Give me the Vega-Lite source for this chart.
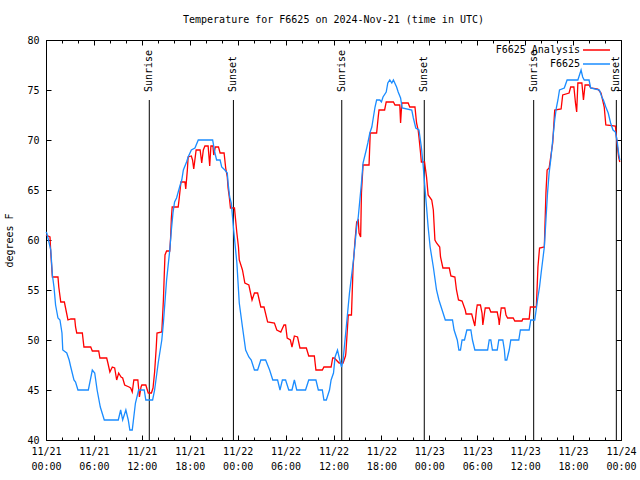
{
  "$schema": "https://vega.github.io/schema/vega-lite/v6.json",
  "width": 575,
  "height": 400,
  "autosize": {"type": "none"},
  "padding": {"left": 46, "top": 40, "right": 19, "bottom": 40},
  "background": "white",
  "title": {"text": "Temperature for F6625 on 2024-Nov-21 (time in UTC)", "font": "DejaVu Sans Mono", "fontSize": 10, "fontWeight": "normal", "color": "black", "offset": 10, "anchor": "middle"},
  "config": {
    "view": {"stroke": "black", "strokeWidth": 1},
    "axis": {"domain": false, "grid": false, "labelFont": "DejaVu Sans Mono", "labelFontSize": 10, "labelColor": "black", "titleFont": "DejaVu Sans Mono", "titleFontSize": 10, "titleFontWeight": "normal", "titleColor": "black", "tickColor": "black", "tickWidth": 1, "labelFlush": false, "labelOverlap": false}
  },
  "datasets": {
    "sun": [
      {"t": "2024-11-21T12:56:00Z", "label": "Sunrise"},
      {"t": "2024-11-21T23:28:00Z", "label": "Sunset"},
      {"t": "2024-11-22T13:02:00Z", "label": "Sunrise"},
      {"t": "2024-11-22T23:22:00Z", "label": "Sunset"},
      {"t": "2024-11-23T13:04:00Z", "label": "Sunrise"},
      {"t": "2024-11-23T23:25:00Z", "label": "Sunset"}
    ],
    "analysis": [
      {"s": "F6625 Analysis", "t": "2024-11-21T00:00Z", "v": 60.5},
      {"s": "F6625 Analysis", "t": "2024-11-21T00:30Z", "v": 60.3},
      {"s": "F6625 Analysis", "t": "2024-11-21T00:36Z", "v": 58.7},
      {"s": "F6625 Analysis", "t": "2024-11-21T00:48Z", "v": 56.3},
      {"s": "F6625 Analysis", "t": "2024-11-21T01:30Z", "v": 56.3},
      {"s": "F6625 Analysis", "t": "2024-11-21T01:36Z", "v": 55.3},
      {"s": "F6625 Analysis", "t": "2024-11-21T01:51Z", "v": 53.8},
      {"s": "F6625 Analysis", "t": "2024-11-21T02:18Z", "v": 53.8},
      {"s": "F6625 Analysis", "t": "2024-11-21T02:30Z", "v": 53},
      {"s": "F6625 Analysis", "t": "2024-11-21T02:45Z", "v": 52},
      {"s": "F6625 Analysis", "t": "2024-11-21T03:06Z", "v": 52.1},
      {"s": "F6625 Analysis", "t": "2024-11-21T03:36Z", "v": 52.1},
      {"s": "F6625 Analysis", "t": "2024-11-21T03:42Z", "v": 51.3},
      {"s": "F6625 Analysis", "t": "2024-11-21T03:51Z", "v": 50.7},
      {"s": "F6625 Analysis", "t": "2024-11-21T04:33Z", "v": 50.7},
      {"s": "F6625 Analysis", "t": "2024-11-21T04:45Z", "v": 49.3},
      {"s": "F6625 Analysis", "t": "2024-11-21T05:36Z", "v": 49.3},
      {"s": "F6625 Analysis", "t": "2024-11-21T05:48Z", "v": 48.9},
      {"s": "F6625 Analysis", "t": "2024-11-21T06:36Z", "v": 48.9},
      {"s": "F6625 Analysis", "t": "2024-11-21T06:45Z", "v": 48.2},
      {"s": "F6625 Analysis", "t": "2024-11-21T07:36Z", "v": 48.2},
      {"s": "F6625 Analysis", "t": "2024-11-21T07:45Z", "v": 47.7},
      {"s": "F6625 Analysis", "t": "2024-11-21T08:00Z", "v": 46.8},
      {"s": "F6625 Analysis", "t": "2024-11-21T08:18Z", "v": 47.3},
      {"s": "F6625 Analysis", "t": "2024-11-21T08:36Z", "v": 47.2},
      {"s": "F6625 Analysis", "t": "2024-11-21T08:51Z", "v": 46},
      {"s": "F6625 Analysis", "t": "2024-11-21T09:06Z", "v": 46.7},
      {"s": "F6625 Analysis", "t": "2024-11-21T09:24Z", "v": 46.3},
      {"s": "F6625 Analysis", "t": "2024-11-21T09:36Z", "v": 46.2},
      {"s": "F6625 Analysis", "t": "2024-11-21T09:51Z", "v": 45.5},
      {"s": "F6625 Analysis", "t": "2024-11-21T10:24Z", "v": 45.3},
      {"s": "F6625 Analysis", "t": "2024-11-21T10:36Z", "v": 45.2},
      {"s": "F6625 Analysis", "t": "2024-11-21T10:48Z", "v": 44.8},
      {"s": "F6625 Analysis", "t": "2024-11-21T11:00Z", "v": 46},
      {"s": "F6625 Analysis", "t": "2024-11-21T11:30Z", "v": 46},
      {"s": "F6625 Analysis", "t": "2024-11-21T11:42Z", "v": 44.3},
      {"s": "F6625 Analysis", "t": "2024-11-21T11:54Z", "v": 45.3},
      {"s": "F6625 Analysis", "t": "2024-11-21T12:00Z", "v": 45.5},
      {"s": "F6625 Analysis", "t": "2024-11-21T12:30Z", "v": 45.5},
      {"s": "F6625 Analysis", "t": "2024-11-21T12:48Z", "v": 44.7},
      {"s": "F6625 Analysis", "t": "2024-11-21T13:12Z", "v": 44.7},
      {"s": "F6625 Analysis", "t": "2024-11-21T13:24Z", "v": 45.2},
      {"s": "F6625 Analysis", "t": "2024-11-21T13:36Z", "v": 46.8},
      {"s": "F6625 Analysis", "t": "2024-11-21T13:48Z", "v": 49.2},
      {"s": "F6625 Analysis", "t": "2024-11-21T13:54Z", "v": 50.7},
      {"s": "F6625 Analysis", "t": "2024-11-21T14:30Z", "v": 50.8},
      {"s": "F6625 Analysis", "t": "2024-11-21T14:42Z", "v": 54},
      {"s": "F6625 Analysis", "t": "2024-11-21T14:48Z", "v": 56.3},
      {"s": "F6625 Analysis", "t": "2024-11-21T14:54Z", "v": 58.5},
      {"s": "F6625 Analysis", "t": "2024-11-21T15:06Z", "v": 58.9},
      {"s": "F6625 Analysis", "t": "2024-11-21T15:30Z", "v": 58.9},
      {"s": "F6625 Analysis", "t": "2024-11-21T15:36Z", "v": 60.2},
      {"s": "F6625 Analysis", "t": "2024-11-21T15:42Z", "v": 62.2},
      {"s": "F6625 Analysis", "t": "2024-11-21T15:48Z", "v": 63.3},
      {"s": "F6625 Analysis", "t": "2024-11-21T16:33Z", "v": 63.3},
      {"s": "F6625 Analysis", "t": "2024-11-21T16:42Z", "v": 64.3},
      {"s": "F6625 Analysis", "t": "2024-11-21T16:54Z", "v": 65.8},
      {"s": "F6625 Analysis", "t": "2024-11-21T17:24Z", "v": 65.8},
      {"s": "F6625 Analysis", "t": "2024-11-21T17:30Z", "v": 65.1},
      {"s": "F6625 Analysis", "t": "2024-11-21T17:42Z", "v": 67},
      {"s": "F6625 Analysis", "t": "2024-11-21T17:48Z", "v": 68.3},
      {"s": "F6625 Analysis", "t": "2024-11-21T18:12Z", "v": 68.4},
      {"s": "F6625 Analysis", "t": "2024-11-21T18:21Z", "v": 68},
      {"s": "F6625 Analysis", "t": "2024-11-21T18:30Z", "v": 67.1},
      {"s": "F6625 Analysis", "t": "2024-11-21T18:48Z", "v": 69},
      {"s": "F6625 Analysis", "t": "2024-11-21T19:18Z", "v": 69},
      {"s": "F6625 Analysis", "t": "2024-11-21T19:30Z", "v": 67.7},
      {"s": "F6625 Analysis", "t": "2024-11-21T19:42Z", "v": 69},
      {"s": "F6625 Analysis", "t": "2024-11-21T19:54Z", "v": 69.4},
      {"s": "F6625 Analysis", "t": "2024-11-21T20:18Z", "v": 69.4},
      {"s": "F6625 Analysis", "t": "2024-11-21T20:30Z", "v": 67.4},
      {"s": "F6625 Analysis", "t": "2024-11-21T20:39Z", "v": 69.4},
      {"s": "F6625 Analysis", "t": "2024-11-21T20:54Z", "v": 69.4},
      {"s": "F6625 Analysis", "t": "2024-11-21T21:00Z", "v": 68.5},
      {"s": "F6625 Analysis", "t": "2024-11-21T21:12Z", "v": 69.3},
      {"s": "F6625 Analysis", "t": "2024-11-21T21:36Z", "v": 69.3},
      {"s": "F6625 Analysis", "t": "2024-11-21T21:48Z", "v": 68.7},
      {"s": "F6625 Analysis", "t": "2024-11-21T22:18Z", "v": 68.7},
      {"s": "F6625 Analysis", "t": "2024-11-21T22:30Z", "v": 67.2},
      {"s": "F6625 Analysis", "t": "2024-11-21T22:42Z", "v": 66.3},
      {"s": "F6625 Analysis", "t": "2024-11-21T22:48Z", "v": 65.2},
      {"s": "F6625 Analysis", "t": "2024-11-21T22:57Z", "v": 64.3},
      {"s": "F6625 Analysis", "t": "2024-11-21T23:06Z", "v": 63.2},
      {"s": "F6625 Analysis", "t": "2024-11-21T23:36Z", "v": 63.2},
      {"s": "F6625 Analysis", "t": "2024-11-21T23:54Z", "v": 60.7},
      {"s": "F6625 Analysis", "t": "2024-11-22T00:06Z", "v": 59.3},
      {"s": "F6625 Analysis", "t": "2024-11-22T00:12Z", "v": 58},
      {"s": "F6625 Analysis", "t": "2024-11-22T00:36Z", "v": 57},
      {"s": "F6625 Analysis", "t": "2024-11-22T00:54Z", "v": 55.7},
      {"s": "F6625 Analysis", "t": "2024-11-22T01:24Z", "v": 55.5},
      {"s": "F6625 Analysis", "t": "2024-11-22T01:48Z", "v": 54},
      {"s": "F6625 Analysis", "t": "2024-11-22T02:06Z", "v": 54.7},
      {"s": "F6625 Analysis", "t": "2024-11-22T02:30Z", "v": 54.7},
      {"s": "F6625 Analysis", "t": "2024-11-22T02:54Z", "v": 53.3},
      {"s": "F6625 Analysis", "t": "2024-11-22T03:18Z", "v": 53.3},
      {"s": "F6625 Analysis", "t": "2024-11-22T03:45Z", "v": 51.8},
      {"s": "F6625 Analysis", "t": "2024-11-22T04:36Z", "v": 51.7},
      {"s": "F6625 Analysis", "t": "2024-11-22T04:54Z", "v": 51},
      {"s": "F6625 Analysis", "t": "2024-11-22T05:24Z", "v": 50.8},
      {"s": "F6625 Analysis", "t": "2024-11-22T05:48Z", "v": 51.5},
      {"s": "F6625 Analysis", "t": "2024-11-22T06:00Z", "v": 51.5},
      {"s": "F6625 Analysis", "t": "2024-11-22T06:12Z", "v": 50.2},
      {"s": "F6625 Analysis", "t": "2024-11-22T06:36Z", "v": 50},
      {"s": "F6625 Analysis", "t": "2024-11-22T06:48Z", "v": 49.3},
      {"s": "F6625 Analysis", "t": "2024-11-22T07:06Z", "v": 50.4},
      {"s": "F6625 Analysis", "t": "2024-11-22T07:30Z", "v": 50.3},
      {"s": "F6625 Analysis", "t": "2024-11-22T07:48Z", "v": 49.2},
      {"s": "F6625 Analysis", "t": "2024-11-22T08:36Z", "v": 49.2},
      {"s": "F6625 Analysis", "t": "2024-11-22T08:54Z", "v": 48.4},
      {"s": "F6625 Analysis", "t": "2024-11-22T09:36Z", "v": 48.4},
      {"s": "F6625 Analysis", "t": "2024-11-22T09:48Z", "v": 47},
      {"s": "F6625 Analysis", "t": "2024-11-22T10:36Z", "v": 47},
      {"s": "F6625 Analysis", "t": "2024-11-22T10:48Z", "v": 47.3},
      {"s": "F6625 Analysis", "t": "2024-11-22T11:42Z", "v": 47.3},
      {"s": "F6625 Analysis", "t": "2024-11-22T11:54Z", "v": 48.2},
      {"s": "F6625 Analysis", "t": "2024-11-22T12:06Z", "v": 48.2},
      {"s": "F6625 Analysis", "t": "2024-11-22T12:42Z", "v": 47.7},
      {"s": "F6625 Analysis", "t": "2024-11-22T13:12Z", "v": 47.7},
      {"s": "F6625 Analysis", "t": "2024-11-22T13:30Z", "v": 48.4},
      {"s": "F6625 Analysis", "t": "2024-11-22T13:33Z", "v": 48.7},
      {"s": "F6625 Analysis", "t": "2024-11-22T13:51Z", "v": 52.5},
      {"s": "F6625 Analysis", "t": "2024-11-22T14:15Z", "v": 52.5},
      {"s": "F6625 Analysis", "t": "2024-11-22T14:27Z", "v": 57.3},
      {"s": "F6625 Analysis", "t": "2024-11-22T14:42Z", "v": 60},
      {"s": "F6625 Analysis", "t": "2024-11-22T14:54Z", "v": 61.8},
      {"s": "F6625 Analysis", "t": "2024-11-22T15:06Z", "v": 62},
      {"s": "F6625 Analysis", "t": "2024-11-22T15:12Z", "v": 60.7},
      {"s": "F6625 Analysis", "t": "2024-11-22T15:24Z", "v": 60.3},
      {"s": "F6625 Analysis", "t": "2024-11-22T15:30Z", "v": 64.7},
      {"s": "F6625 Analysis", "t": "2024-11-22T15:42Z", "v": 67.5},
      {"s": "F6625 Analysis", "t": "2024-11-22T16:27Z", "v": 67.5},
      {"s": "F6625 Analysis", "t": "2024-11-22T16:36Z", "v": 70.7},
      {"s": "F6625 Analysis", "t": "2024-11-22T17:24Z", "v": 70.7},
      {"s": "F6625 Analysis", "t": "2024-11-22T17:36Z", "v": 72.3},
      {"s": "F6625 Analysis", "t": "2024-11-22T17:42Z", "v": 73},
      {"s": "F6625 Analysis", "t": "2024-11-22T18:24Z", "v": 73},
      {"s": "F6625 Analysis", "t": "2024-11-22T18:36Z", "v": 73.8},
      {"s": "F6625 Analysis", "t": "2024-11-22T19:30Z", "v": 73.8},
      {"s": "F6625 Analysis", "t": "2024-11-22T19:42Z", "v": 73.5},
      {"s": "F6625 Analysis", "t": "2024-11-22T20:18Z", "v": 73.5},
      {"s": "F6625 Analysis", "t": "2024-11-22T20:24Z", "v": 71.7},
      {"s": "F6625 Analysis", "t": "2024-11-22T20:33Z", "v": 73.7},
      {"s": "F6625 Analysis", "t": "2024-11-22T21:21Z", "v": 73.7},
      {"s": "F6625 Analysis", "t": "2024-11-22T21:33Z", "v": 73.3},
      {"s": "F6625 Analysis", "t": "2024-11-22T22:12Z", "v": 73.3},
      {"s": "F6625 Analysis", "t": "2024-11-22T22:24Z", "v": 71.7},
      {"s": "F6625 Analysis", "t": "2024-11-22T22:36Z", "v": 71},
      {"s": "F6625 Analysis", "t": "2024-11-22T22:42Z", "v": 70.3},
      {"s": "F6625 Analysis", "t": "2024-11-22T22:54Z", "v": 68.7},
      {"s": "F6625 Analysis", "t": "2024-11-22T23:00Z", "v": 67.8},
      {"s": "F6625 Analysis", "t": "2024-11-22T23:24Z", "v": 67.8},
      {"s": "F6625 Analysis", "t": "2024-11-22T23:39Z", "v": 66.3},
      {"s": "F6625 Analysis", "t": "2024-11-22T23:51Z", "v": 64.5},
      {"s": "F6625 Analysis", "t": "2024-11-23T00:18Z", "v": 64},
      {"s": "F6625 Analysis", "t": "2024-11-23T00:30Z", "v": 63},
      {"s": "F6625 Analysis", "t": "2024-11-23T00:42Z", "v": 60},
      {"s": "F6625 Analysis", "t": "2024-11-23T00:54Z", "v": 59.7},
      {"s": "F6625 Analysis", "t": "2024-11-23T01:18Z", "v": 59.3},
      {"s": "F6625 Analysis", "t": "2024-11-23T01:24Z", "v": 58.3},
      {"s": "F6625 Analysis", "t": "2024-11-23T01:42Z", "v": 57.2},
      {"s": "F6625 Analysis", "t": "2024-11-23T02:30Z", "v": 57.2},
      {"s": "F6625 Analysis", "t": "2024-11-23T02:42Z", "v": 56.4},
      {"s": "F6625 Analysis", "t": "2024-11-23T03:12Z", "v": 56.3},
      {"s": "F6625 Analysis", "t": "2024-11-23T03:24Z", "v": 55},
      {"s": "F6625 Analysis", "t": "2024-11-23T03:39Z", "v": 54},
      {"s": "F6625 Analysis", "t": "2024-11-23T04:06Z", "v": 53.9},
      {"s": "F6625 Analysis", "t": "2024-11-23T04:30Z", "v": 53},
      {"s": "F6625 Analysis", "t": "2024-11-23T04:36Z", "v": 52.6},
      {"s": "F6625 Analysis", "t": "2024-11-23T05:18Z", "v": 52.6},
      {"s": "F6625 Analysis", "t": "2024-11-23T05:30Z", "v": 52},
      {"s": "F6625 Analysis", "t": "2024-11-23T05:42Z", "v": 51.4},
      {"s": "F6625 Analysis", "t": "2024-11-23T05:54Z", "v": 53},
      {"s": "F6625 Analysis", "t": "2024-11-23T06:00Z", "v": 53.5},
      {"s": "F6625 Analysis", "t": "2024-11-23T06:24Z", "v": 53.5},
      {"s": "F6625 Analysis", "t": "2024-11-23T06:36Z", "v": 52.7},
      {"s": "F6625 Analysis", "t": "2024-11-23T06:42Z", "v": 51.5},
      {"s": "F6625 Analysis", "t": "2024-11-23T07:00Z", "v": 53.2},
      {"s": "F6625 Analysis", "t": "2024-11-23T07:30Z", "v": 53.2},
      {"s": "F6625 Analysis", "t": "2024-11-23T07:42Z", "v": 52.8},
      {"s": "F6625 Analysis", "t": "2024-11-23T08:30Z", "v": 52.8},
      {"s": "F6625 Analysis", "t": "2024-11-23T08:42Z", "v": 52},
      {"s": "F6625 Analysis", "t": "2024-11-23T08:45Z", "v": 51.5},
      {"s": "F6625 Analysis", "t": "2024-11-23T09:00Z", "v": 53.2},
      {"s": "F6625 Analysis", "t": "2024-11-23T09:27Z", "v": 53.2},
      {"s": "F6625 Analysis", "t": "2024-11-23T09:36Z", "v": 52.5},
      {"s": "F6625 Analysis", "t": "2024-11-23T09:48Z", "v": 52.2},
      {"s": "F6625 Analysis", "t": "2024-11-23T10:30Z", "v": 52.2},
      {"s": "F6625 Analysis", "t": "2024-11-23T10:42Z", "v": 51.9},
      {"s": "F6625 Analysis", "t": "2024-11-23T11:36Z", "v": 51.9},
      {"s": "F6625 Analysis", "t": "2024-11-23T11:42Z", "v": 52.1},
      {"s": "F6625 Analysis", "t": "2024-11-23T12:30Z", "v": 52.1},
      {"s": "F6625 Analysis", "t": "2024-11-23T12:39Z", "v": 53.3},
      {"s": "F6625 Analysis", "t": "2024-11-23T13:24Z", "v": 53.3},
      {"s": "F6625 Analysis", "t": "2024-11-23T13:36Z", "v": 57.3},
      {"s": "F6625 Analysis", "t": "2024-11-23T13:48Z", "v": 59.2},
      {"s": "F6625 Analysis", "t": "2024-11-23T14:24Z", "v": 59.3},
      {"s": "F6625 Analysis", "t": "2024-11-23T14:36Z", "v": 64.7},
      {"s": "F6625 Analysis", "t": "2024-11-23T14:45Z", "v": 67},
      {"s": "F6625 Analysis", "t": "2024-11-23T15:00Z", "v": 67.2},
      {"s": "F6625 Analysis", "t": "2024-11-23T15:27Z", "v": 69.7},
      {"s": "F6625 Analysis", "t": "2024-11-23T15:42Z", "v": 73},
      {"s": "F6625 Analysis", "t": "2024-11-23T16:30Z", "v": 73.1},
      {"s": "F6625 Analysis", "t": "2024-11-23T16:42Z", "v": 74.5},
      {"s": "F6625 Analysis", "t": "2024-11-23T17:30Z", "v": 74.7},
      {"s": "F6625 Analysis", "t": "2024-11-23T17:42Z", "v": 75.3},
      {"s": "F6625 Analysis", "t": "2024-11-23T18:06Z", "v": 75.3},
      {"s": "F6625 Analysis", "t": "2024-11-23T18:18Z", "v": 73.7},
      {"s": "F6625 Analysis", "t": "2024-11-23T18:27Z", "v": 72.8},
      {"s": "F6625 Analysis", "t": "2024-11-23T18:36Z", "v": 75.7},
      {"s": "F6625 Analysis", "t": "2024-11-23T19:06Z", "v": 75.7},
      {"s": "F6625 Analysis", "t": "2024-11-23T19:18Z", "v": 74},
      {"s": "F6625 Analysis", "t": "2024-11-23T19:30Z", "v": 75.5},
      {"s": "F6625 Analysis", "t": "2024-11-23T20:00Z", "v": 75.5},
      {"s": "F6625 Analysis", "t": "2024-11-23T20:12Z", "v": 75.2},
      {"s": "F6625 Analysis", "t": "2024-11-23T21:06Z", "v": 75.1},
      {"s": "F6625 Analysis", "t": "2024-11-23T21:30Z", "v": 74.7},
      {"s": "F6625 Analysis", "t": "2024-11-23T21:54Z", "v": 73.3},
      {"s": "F6625 Analysis", "t": "2024-11-23T22:06Z", "v": 71.5},
      {"s": "F6625 Analysis", "t": "2024-11-23T23:18Z", "v": 71.4},
      {"s": "F6625 Analysis", "t": "2024-11-23T23:30Z", "v": 69.7},
      {"s": "F6625 Analysis", "t": "2024-11-23T23:42Z", "v": 68.3},
      {"s": "F6625 Analysis", "t": "2024-11-23T23:51Z", "v": 67.8}
    ],
    "obs": [
      {"s": "F6625", "t": "2024-11-21T00:00Z", "v": 60.8},
      {"s": "F6625", "t": "2024-11-21T00:06Z", "v": 60.7},
      {"s": "F6625", "t": "2024-11-21T00:36Z", "v": 59},
      {"s": "F6625", "t": "2024-11-21T00:48Z", "v": 56.5},
      {"s": "F6625", "t": "2024-11-21T01:00Z", "v": 55.3},
      {"s": "F6625", "t": "2024-11-21T01:12Z", "v": 53.5},
      {"s": "F6625", "t": "2024-11-21T01:30Z", "v": 52.2},
      {"s": "F6625", "t": "2024-11-21T01:45Z", "v": 52},
      {"s": "F6625", "t": "2024-11-21T02:00Z", "v": 50.7},
      {"s": "F6625", "t": "2024-11-21T02:06Z", "v": 49},
      {"s": "F6625", "t": "2024-11-21T02:36Z", "v": 48.7},
      {"s": "F6625", "t": "2024-11-21T02:54Z", "v": 48},
      {"s": "F6625", "t": "2024-11-21T03:06Z", "v": 47.3},
      {"s": "F6625", "t": "2024-11-21T03:30Z", "v": 46},
      {"s": "F6625", "t": "2024-11-21T03:42Z", "v": 45.8},
      {"s": "F6625", "t": "2024-11-21T04:00Z", "v": 45},
      {"s": "F6625", "t": "2024-11-21T05:18Z", "v": 45},
      {"s": "F6625", "t": "2024-11-21T05:48Z", "v": 47},
      {"s": "F6625", "t": "2024-11-21T06:06Z", "v": 46.7},
      {"s": "F6625", "t": "2024-11-21T06:24Z", "v": 45},
      {"s": "F6625", "t": "2024-11-21T06:48Z", "v": 43.3},
      {"s": "F6625", "t": "2024-11-21T07:18Z", "v": 42},
      {"s": "F6625", "t": "2024-11-21T09:03Z", "v": 42},
      {"s": "F6625", "t": "2024-11-21T09:21Z", "v": 43},
      {"s": "F6625", "t": "2024-11-21T09:36Z", "v": 42},
      {"s": "F6625", "t": "2024-11-21T10:00Z", "v": 43},
      {"s": "F6625", "t": "2024-11-21T10:18Z", "v": 42},
      {"s": "F6625", "t": "2024-11-21T10:30Z", "v": 41},
      {"s": "F6625", "t": "2024-11-21T10:48Z", "v": 41},
      {"s": "F6625", "t": "2024-11-21T11:12Z", "v": 43.7},
      {"s": "F6625", "t": "2024-11-21T11:36Z", "v": 45},
      {"s": "F6625", "t": "2024-11-21T12:18Z", "v": 45},
      {"s": "F6625", "t": "2024-11-21T12:30Z", "v": 44},
      {"s": "F6625", "t": "2024-11-21T13:21Z", "v": 44},
      {"s": "F6625", "t": "2024-11-21T13:36Z", "v": 45},
      {"s": "F6625", "t": "2024-11-21T14:03Z", "v": 47.7},
      {"s": "F6625", "t": "2024-11-21T14:30Z", "v": 50},
      {"s": "F6625", "t": "2024-11-21T14:42Z", "v": 51.7},
      {"s": "F6625", "t": "2024-11-21T15:06Z", "v": 56},
      {"s": "F6625", "t": "2024-11-21T15:30Z", "v": 59},
      {"s": "F6625", "t": "2024-11-21T15:42Z", "v": 61},
      {"s": "F6625", "t": "2024-11-21T15:54Z", "v": 62.7},
      {"s": "F6625", "t": "2024-11-21T16:06Z", "v": 63.8},
      {"s": "F6625", "t": "2024-11-21T16:21Z", "v": 64.2},
      {"s": "F6625", "t": "2024-11-21T16:48Z", "v": 65.5},
      {"s": "F6625", "t": "2024-11-21T17:00Z", "v": 66},
      {"s": "F6625", "t": "2024-11-21T17:12Z", "v": 67},
      {"s": "F6625", "t": "2024-11-21T17:36Z", "v": 67.8},
      {"s": "F6625", "t": "2024-11-21T17:48Z", "v": 68.3},
      {"s": "F6625", "t": "2024-11-21T18:12Z", "v": 69},
      {"s": "F6625", "t": "2024-11-21T18:39Z", "v": 69.2},
      {"s": "F6625", "t": "2024-11-21T19:04Z", "v": 70},
      {"s": "F6625", "t": "2024-11-21T20:52Z", "v": 70},
      {"s": "F6625", "t": "2024-11-21T21:09Z", "v": 68.7},
      {"s": "F6625", "t": "2024-11-21T21:22Z", "v": 68},
      {"s": "F6625", "t": "2024-11-21T21:48Z", "v": 68},
      {"s": "F6625", "t": "2024-11-21T22:00Z", "v": 67.3},
      {"s": "F6625", "t": "2024-11-21T22:24Z", "v": 67},
      {"s": "F6625", "t": "2024-11-21T22:42Z", "v": 66.7},
      {"s": "F6625", "t": "2024-11-21T22:48Z", "v": 65.7},
      {"s": "F6625", "t": "2024-11-21T23:00Z", "v": 64.3},
      {"s": "F6625", "t": "2024-11-21T23:12Z", "v": 63.7},
      {"s": "F6625", "t": "2024-11-21T23:30Z", "v": 61},
      {"s": "F6625", "t": "2024-11-21T23:54Z", "v": 57.7},
      {"s": "F6625", "t": "2024-11-22T00:12Z", "v": 53.7},
      {"s": "F6625", "t": "2024-11-22T00:36Z", "v": 51.3},
      {"s": "F6625", "t": "2024-11-22T01:00Z", "v": 49},
      {"s": "F6625", "t": "2024-11-22T01:24Z", "v": 48.3},
      {"s": "F6625", "t": "2024-11-22T01:42Z", "v": 48},
      {"s": "F6625", "t": "2024-11-22T02:06Z", "v": 47},
      {"s": "F6625", "t": "2024-11-22T02:30Z", "v": 47},
      {"s": "F6625", "t": "2024-11-22T02:54Z", "v": 48},
      {"s": "F6625", "t": "2024-11-22T03:30Z", "v": 48},
      {"s": "F6625", "t": "2024-11-22T04:00Z", "v": 47},
      {"s": "F6625", "t": "2024-11-22T04:24Z", "v": 46},
      {"s": "F6625", "t": "2024-11-22T05:00Z", "v": 46},
      {"s": "F6625", "t": "2024-11-22T05:18Z", "v": 45},
      {"s": "F6625", "t": "2024-11-22T05:36Z", "v": 46},
      {"s": "F6625", "t": "2024-11-22T06:00Z", "v": 46},
      {"s": "F6625", "t": "2024-11-22T06:24Z", "v": 45},
      {"s": "F6625", "t": "2024-11-22T06:48Z", "v": 45},
      {"s": "F6625", "t": "2024-11-22T07:06Z", "v": 46},
      {"s": "F6625", "t": "2024-11-22T07:24Z", "v": 45},
      {"s": "F6625", "t": "2024-11-22T08:30Z", "v": 45},
      {"s": "F6625", "t": "2024-11-22T08:54Z", "v": 46},
      {"s": "F6625", "t": "2024-11-22T09:48Z", "v": 46},
      {"s": "F6625", "t": "2024-11-22T10:06Z", "v": 45},
      {"s": "F6625", "t": "2024-11-22T10:36Z", "v": 45},
      {"s": "F6625", "t": "2024-11-22T10:48Z", "v": 44},
      {"s": "F6625", "t": "2024-11-22T11:06Z", "v": 44},
      {"s": "F6625", "t": "2024-11-22T11:30Z", "v": 45},
      {"s": "F6625", "t": "2024-11-22T11:42Z", "v": 46},
      {"s": "F6625", "t": "2024-11-22T12:00Z", "v": 46.7},
      {"s": "F6625", "t": "2024-11-22T12:12Z", "v": 48.3},
      {"s": "F6625", "t": "2024-11-22T12:30Z", "v": 49},
      {"s": "F6625", "t": "2024-11-22T12:42Z", "v": 48.3},
      {"s": "F6625", "t": "2024-11-22T13:00Z", "v": 47.3},
      {"s": "F6625", "t": "2024-11-22T13:12Z", "v": 48},
      {"s": "F6625", "t": "2024-11-22T13:36Z", "v": 51.3},
      {"s": "F6625", "t": "2024-11-22T14:00Z", "v": 54.7},
      {"s": "F6625", "t": "2024-11-22T14:30Z", "v": 58},
      {"s": "F6625", "t": "2024-11-22T14:54Z", "v": 61.3},
      {"s": "F6625", "t": "2024-11-22T15:06Z", "v": 62.3},
      {"s": "F6625", "t": "2024-11-22T15:18Z", "v": 64},
      {"s": "F6625", "t": "2024-11-22T15:30Z", "v": 65.7},
      {"s": "F6625", "t": "2024-11-22T15:42Z", "v": 67.7},
      {"s": "F6625", "t": "2024-11-22T16:06Z", "v": 69},
      {"s": "F6625", "t": "2024-11-22T16:18Z", "v": 69.7},
      {"s": "F6625", "t": "2024-11-22T16:33Z", "v": 70.7},
      {"s": "F6625", "t": "2024-11-22T16:48Z", "v": 71.3},
      {"s": "F6625", "t": "2024-11-22T17:00Z", "v": 72.3},
      {"s": "F6625", "t": "2024-11-22T17:12Z", "v": 73.3},
      {"s": "F6625", "t": "2024-11-22T17:24Z", "v": 74},
      {"s": "F6625", "t": "2024-11-22T17:48Z", "v": 74},
      {"s": "F6625", "t": "2024-11-22T18:00Z", "v": 73.8},
      {"s": "F6625", "t": "2024-11-22T18:12Z", "v": 74.3},
      {"s": "F6625", "t": "2024-11-22T18:36Z", "v": 74.8},
      {"s": "F6625", "t": "2024-11-22T18:48Z", "v": 75.7},
      {"s": "F6625", "t": "2024-11-22T19:03Z", "v": 76},
      {"s": "F6625", "t": "2024-11-22T19:18Z", "v": 75.7},
      {"s": "F6625", "t": "2024-11-22T19:30Z", "v": 76},
      {"s": "F6625", "t": "2024-11-22T19:54Z", "v": 75.3},
      {"s": "F6625", "t": "2024-11-22T20:06Z", "v": 74.8},
      {"s": "F6625", "t": "2024-11-22T20:24Z", "v": 74.2},
      {"s": "F6625", "t": "2024-11-22T20:36Z", "v": 73.2},
      {"s": "F6625", "t": "2024-11-22T21:48Z", "v": 73},
      {"s": "F6625", "t": "2024-11-22T22:00Z", "v": 72.2},
      {"s": "F6625", "t": "2024-11-22T22:18Z", "v": 71.2},
      {"s": "F6625", "t": "2024-11-22T22:42Z", "v": 71},
      {"s": "F6625", "t": "2024-11-22T23:00Z", "v": 69.3},
      {"s": "F6625", "t": "2024-11-22T23:12Z", "v": 67.7},
      {"s": "F6625", "t": "2024-11-22T23:24Z", "v": 65.7},
      {"s": "F6625", "t": "2024-11-22T23:39Z", "v": 63.3},
      {"s": "F6625", "t": "2024-11-22T23:51Z", "v": 61.3},
      {"s": "F6625", "t": "2024-11-23T00:06Z", "v": 59.3},
      {"s": "F6625", "t": "2024-11-23T00:30Z", "v": 57.3},
      {"s": "F6625", "t": "2024-11-23T00:54Z", "v": 55},
      {"s": "F6625", "t": "2024-11-23T01:12Z", "v": 54},
      {"s": "F6625", "t": "2024-11-23T01:36Z", "v": 53},
      {"s": "F6625", "t": "2024-11-23T02:00Z", "v": 52},
      {"s": "F6625", "t": "2024-11-23T02:54Z", "v": 52},
      {"s": "F6625", "t": "2024-11-23T03:06Z", "v": 51},
      {"s": "F6625", "t": "2024-11-23T03:30Z", "v": 50},
      {"s": "F6625", "t": "2024-11-23T03:42Z", "v": 49},
      {"s": "F6625", "t": "2024-11-23T03:54Z", "v": 49},
      {"s": "F6625", "t": "2024-11-23T04:06Z", "v": 50},
      {"s": "F6625", "t": "2024-11-23T04:24Z", "v": 50},
      {"s": "F6625", "t": "2024-11-23T04:42Z", "v": 51},
      {"s": "F6625", "t": "2024-11-23T05:12Z", "v": 51},
      {"s": "F6625", "t": "2024-11-23T05:24Z", "v": 50},
      {"s": "F6625", "t": "2024-11-23T05:42Z", "v": 49},
      {"s": "F6625", "t": "2024-11-23T07:18Z", "v": 49},
      {"s": "F6625", "t": "2024-11-23T07:30Z", "v": 50},
      {"s": "F6625", "t": "2024-11-23T07:42Z", "v": 50},
      {"s": "F6625", "t": "2024-11-23T07:54Z", "v": 49},
      {"s": "F6625", "t": "2024-11-23T08:30Z", "v": 49},
      {"s": "F6625", "t": "2024-11-23T08:42Z", "v": 50},
      {"s": "F6625", "t": "2024-11-23T09:12Z", "v": 50},
      {"s": "F6625", "t": "2024-11-23T09:24Z", "v": 49},
      {"s": "F6625", "t": "2024-11-23T09:30Z", "v": 48},
      {"s": "F6625", "t": "2024-11-23T09:42Z", "v": 48},
      {"s": "F6625", "t": "2024-11-23T10:00Z", "v": 49},
      {"s": "F6625", "t": "2024-11-23T10:12Z", "v": 50},
      {"s": "F6625", "t": "2024-11-23T11:12Z", "v": 50},
      {"s": "F6625", "t": "2024-11-23T11:24Z", "v": 51},
      {"s": "F6625", "t": "2024-11-23T12:30Z", "v": 51},
      {"s": "F6625", "t": "2024-11-23T12:42Z", "v": 52},
      {"s": "F6625", "t": "2024-11-23T13:12Z", "v": 52},
      {"s": "F6625", "t": "2024-11-23T13:36Z", "v": 54.3},
      {"s": "F6625", "t": "2024-11-23T13:48Z", "v": 55.3},
      {"s": "F6625", "t": "2024-11-23T14:00Z", "v": 56.7},
      {"s": "F6625", "t": "2024-11-23T14:12Z", "v": 58},
      {"s": "F6625", "t": "2024-11-23T14:24Z", "v": 59.3},
      {"s": "F6625", "t": "2024-11-23T14:36Z", "v": 62},
      {"s": "F6625", "t": "2024-11-23T14:48Z", "v": 64.7},
      {"s": "F6625", "t": "2024-11-23T15:00Z", "v": 66.7},
      {"s": "F6625", "t": "2024-11-23T15:12Z", "v": 68},
      {"s": "F6625", "t": "2024-11-23T15:27Z", "v": 70},
      {"s": "F6625", "t": "2024-11-23T15:42Z", "v": 72},
      {"s": "F6625", "t": "2024-11-23T15:54Z", "v": 73.2},
      {"s": "F6625", "t": "2024-11-23T16:06Z", "v": 74},
      {"s": "F6625", "t": "2024-11-23T16:18Z", "v": 75},
      {"s": "F6625", "t": "2024-11-23T16:54Z", "v": 75.2},
      {"s": "F6625", "t": "2024-11-23T17:15Z", "v": 76},
      {"s": "F6625", "t": "2024-11-23T18:36Z", "v": 76},
      {"s": "F6625", "t": "2024-11-23T18:48Z", "v": 76.5},
      {"s": "F6625", "t": "2024-11-23T19:00Z", "v": 77},
      {"s": "F6625", "t": "2024-11-23T19:12Z", "v": 76.3},
      {"s": "F6625", "t": "2024-11-23T19:24Z", "v": 76},
      {"s": "F6625", "t": "2024-11-23T20:00Z", "v": 76},
      {"s": "F6625", "t": "2024-11-23T20:12Z", "v": 75.2},
      {"s": "F6625", "t": "2024-11-23T21:18Z", "v": 75},
      {"s": "F6625", "t": "2024-11-23T21:36Z", "v": 74.3},
      {"s": "F6625", "t": "2024-11-23T21:48Z", "v": 74},
      {"s": "F6625", "t": "2024-11-23T22:06Z", "v": 73.3},
      {"s": "F6625", "t": "2024-11-23T22:24Z", "v": 72.7},
      {"s": "F6625", "t": "2024-11-23T22:42Z", "v": 71.7},
      {"s": "F6625", "t": "2024-11-23T23:00Z", "v": 71},
      {"s": "F6625", "t": "2024-11-23T23:18Z", "v": 70.8},
      {"s": "F6625", "t": "2024-11-23T23:30Z", "v": 70},
      {"s": "F6625", "t": "2024-11-23T23:42Z", "v": 68.7},
      {"s": "F6625", "t": "2024-11-23T23:51Z", "v": 68}
    ]
  },
  "layer": [
    {
      "data": {"name": "sun"},
      "mark": {"type": "rule", "color": "black", "strokeWidth": 1},
      "encoding": {
        "x": {"field": "t", "type": "temporal", "scale": {"type": "utc", "domain": [{"year": 2024, "month": 11, "date": 21, "hours": 0, "utc": true}, {"year": 2024, "month": 11, "date": 24, "hours": 0, "utc": true}]},
              "axis": {"orient": "top", "labels": false, "title": null, "tickCount": 12, "tickSize": -5}},
        "y": {"datum": 40, "type": "quantitative", "scale": {"domain": [40, 80], "nice": false, "zero": false},
              "axis": {"orient": "right", "labels": false, "title": null, "values": [40, 45, 50, 55, 60, 65, 70, 75, 80], "tickSize": -5}},
        "y2": {"datum": 74}
      }
    },
    {
      "data": {"name": "sun"},
      "mark": {"type": "text", "angle": 270, "align": "left", "baseline": "middle", "font": "DejaVu Sans Mono", "fontSize": 10, "color": "black"},
      "encoding": {
        "x": {"field": "t", "type": "temporal",
              "axis": {"orient": "top", "labels": false, "title": null, "tickSize": -3,
                       "values": [1732147200000, 1732154400000, 1732161600000, 1732168800000, 1732176000000, 1732183200000, 1732190400000, 1732197600000, 1732204800000, 1732212000000, 1732219200000, 1732226400000, 1732233600000, 1732240800000, 1732248000000, 1732255200000, 1732262400000, 1732269600000, 1732276800000, 1732284000000, 1732291200000, 1732298400000, 1732305600000, 1732312800000, 1732320000000, 1732327200000, 1732334400000, 1732341600000, 1732348800000, 1732356000000, 1732363200000, 1732370400000, 1732377600000, 1732384800000, 1732392000000, 1732399200000, 1732406400000]}},
        "y": {"datum": 74.8, "type": "quantitative", "axis": null},
        "text": {"field": "label"}
      }
    },
    {
      "data": {"name": "analysis"},
      "mark": {"type": "line", "strokeWidth": 1.3},
      "encoding": {
        "x": {"field": "t", "type": "temporal",
              "axis": {"orient": "bottom", "title": null, "tickCount": 12, "tickSize": -5, "labelPadding": 11, "labelLineHeight": 15,
                       "labelExpr": "[utcFormat(datum.value, '%m/%d'), utcFormat(datum.value, '%H:%M')]"}},
        "y": {"field": "v", "type": "quantitative",
              "axis": {"orient": "left", "title": "degrees F", "values": [40, 45, 50, 55, 60, 65, 70, 75, 80], "tickSize": -5, "labelPadding": 12, "titlePadding": 12}},
        "color": {"field": "s", "type": "nominal", "scale": {"domain": ["F6625 Analysis", "F6625"], "range": ["#ff0000", "#1a8cff"]},
                  "legend": {"orient": "none", "legendX": 543, "legendY": 2.5, "title": null, "symbolType": "M-2,0H2", "symbolSize": 182, "symbolStrokeWidth": 1.5, "labelAlign": "right", "labelOffset": -24, "labelFont": "DejaVu Sans Mono", "labelFontSize": 10, "labelColor": "black", "rowPadding": 1, "padding": 0}}
      }
    },
    {
      "data": {"name": "obs"},
      "mark": {"type": "line", "strokeWidth": 1.3},
      "encoding": {
        "x": {"field": "t", "type": "temporal",
              "axis": {"orient": "bottom", "labels": false, "title": null, "tickSize": -3,
                       "values": [1732147200000, 1732154400000, 1732161600000, 1732168800000, 1732176000000, 1732183200000, 1732190400000, 1732197600000, 1732204800000, 1732212000000, 1732219200000, 1732226400000, 1732233600000, 1732240800000, 1732248000000, 1732255200000, 1732262400000, 1732269600000, 1732276800000, 1732284000000, 1732291200000, 1732298400000, 1732305600000, 1732312800000, 1732320000000, 1732327200000, 1732334400000, 1732341600000, 1732348800000, 1732356000000, 1732363200000, 1732370400000, 1732377600000, 1732384800000, 1732392000000, 1732399200000, 1732406400000]}},
        "y": {"field": "v", "type": "quantitative", "axis": null},
        "color": {"field": "s", "type": "nominal", "scale": {"domain": ["F6625 Analysis", "F6625"], "range": ["#ff0000", "#1a8cff"]},
                  "legend": {"orient": "none", "legendX": 543, "legendY": 2.5, "title": null, "symbolType": "M-2,0H2", "symbolSize": 182, "symbolStrokeWidth": 1.5, "labelAlign": "right", "labelOffset": -24, "labelFont": "DejaVu Sans Mono", "labelFontSize": 10, "labelColor": "black", "rowPadding": 1, "padding": 0}}
      }
    }
  ],
  "resolve": {"axis": {"x": "independent", "y": "independent"}}
}
